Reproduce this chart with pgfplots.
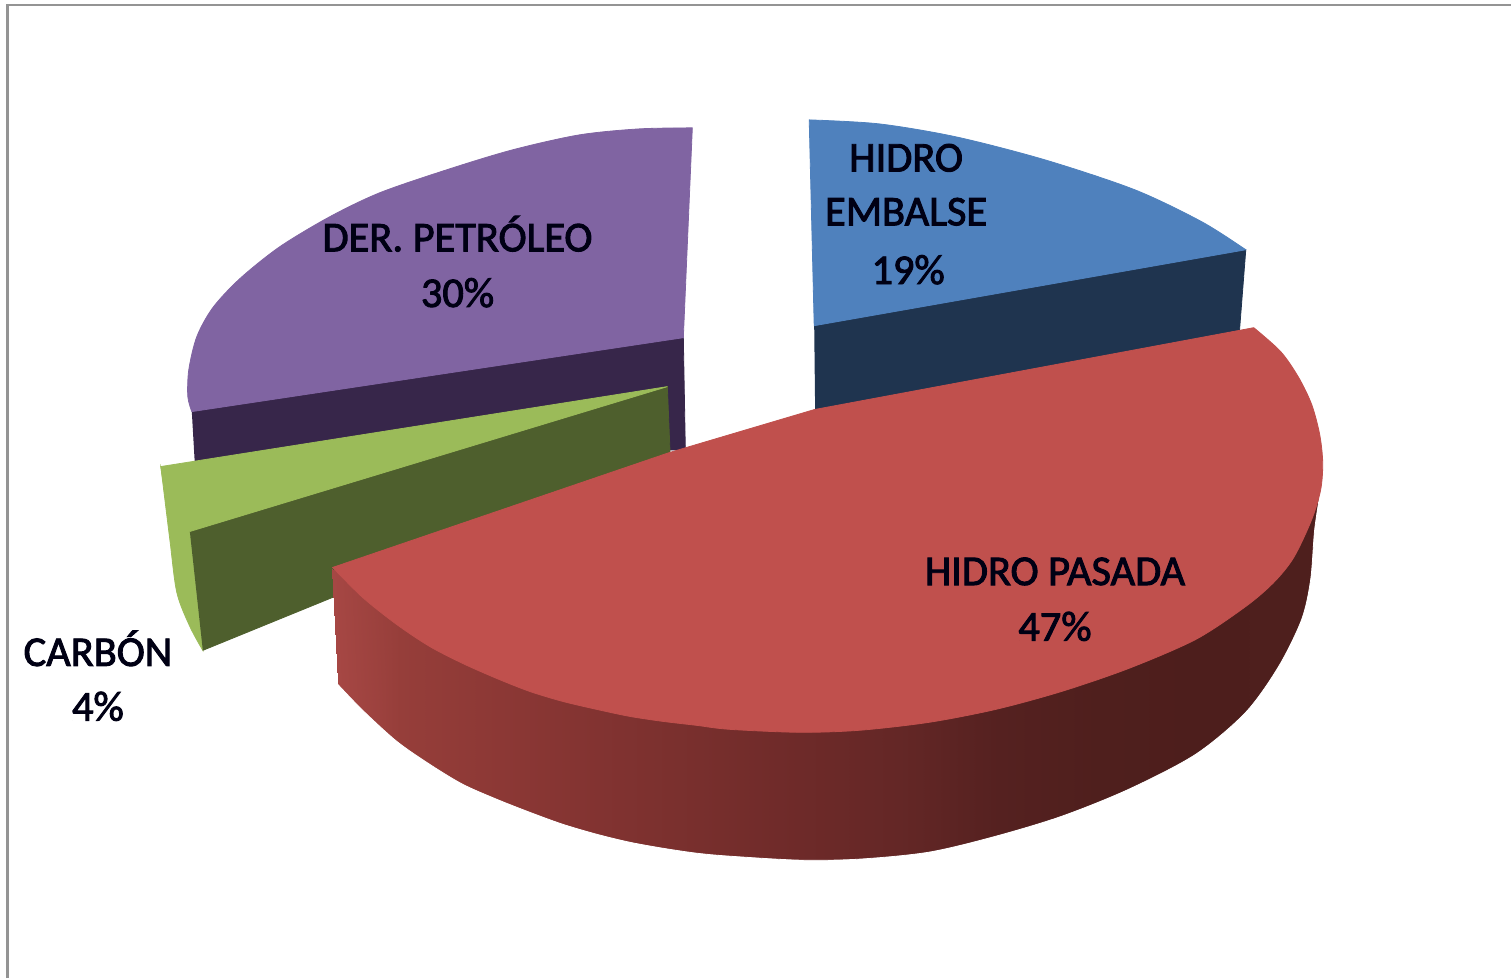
\documentclass[border=0pt]{standalone}
\usepackage{pgfplots}
\pgfplotsset{compat=1.18}
\usepackage{fontspec}
\setmainfont{Carlito}
\newfontfamily\labfont[FakeBold=2.2]{Carlito}
\newcommand{\lab}[3]{\node[anchor=center,inner sep=0pt,text=black!92!blue,font=\labfont\fontsize{21.2}{24}\selectfont] at (axis cs:#1,#2) {#3};}
\definecolor{cblue}{HTML}{4F81BD}
\definecolor{dblue}{HTML}{1F344F}
\definecolor{cpurple}{HTML}{8064A2}
\definecolor{dpurple}{HTML}{37264A}
\definecolor{cgreen}{HTML}{9BBB59}
\definecolor{dgreen}{HTML}{4E5F2D}
\definecolor{cred}{HTML}{C0504D}
\begin{document}
\begin{tikzpicture}
\begin{axis}[hide axis,scale only axis,width=756pt,height=489.5pt,
  xmin=0,xmax=1512,ymin=0,ymax=979,y dir=reverse,clip=false,
  colormap={redside}{rgb255=(166,71,68) rgb255=(150,62,58) rgb255=(140,56,53) rgb255=(130,51,49) rgb255=(120,47,45) rgb255=(110,42,41) rgb255=(100,39,38) rgb255=(85,33,32) rgb255=(79,31,29) rgb255=(77,30,28) rgb255=(78,31,29) rgb255=(79,31,30)}]
% page extent
\addplot[draw=none] coordinates {(0,0) (1512,979)};
% frame
\addplot[color=black!42,line width=1.5pt] coordinates {(8,979) (8,5) (1512,5)};
% purple side and top
\addplot[fill=dpurple,draw=dpurple,line width=0.4pt] coordinates {(192,412) (684,338) (686,450) (195,464)};
\addplot[smooth,fill=cpurple,draw=cpurple,line width=0.4pt] coordinates {(693,128) (640,129) (580,135) (513,150) (447,170) (380,193) (330,217) (280,247) (240,279) (213,308) (197,337) (189,370) (188,397) (192,412)} -- (axis cs:684,338) -- cycle;
% green
\addplot[smooth,fill=cgreen,draw=cgreen,line width=0.4pt] coordinates {(161,467) (170,540) (177,593) (190,627) (203,651)} -- (axis cs:190,532) -- cycle;
\addplot[fill=dgreen,draw=dgreen,line width=0.4pt] coordinates {(190,532) (668,387) (671,460) (203,651)};
\addplot[smooth,fill=cgreen,draw=cgreen,line width=0.4pt] coordinates {(161,467) (168,500) (190,532)} -- (axis cs:668,387) -- cycle;
% blue
\addplot[fill=dblue,draw=dblue,line width=0.4pt] coordinates {(815,326) (1247,250) (1240,340) (816,415)};
\addplot[smooth,fill=cblue,draw=cblue,line width=0.4pt] coordinates {(810,120) (880,124) (957,137) (1046,160) (1136,190) (1203,222) (1247,250)} -- (axis cs:815,326) -- cycle;
% red side
\addplot[surf,shader=interp,mesh/rows=2,point meta=explicit,draw=none] coordinates {
(332,570) [0] (400,605) [1] (500,650) [2] (600,690) [3] (700,710) [4] (800,725) [5] (900,720) [6] (1000,695) [7] (1100,670) [8] (1200,625) [9] (1300,500) [10] (1322,490) [11]

(348,870) [0] (400,870) [1] (500,870) [2] (600,870) [3] (700,870) [4] (800,870) [5] (900,870) [6] (1000,870) [7] (1100,870) [8] (1200,870) [9] (1300,870) [10] (1322,870) [11]
};
% white outside the lower rim of the red slice
\addplot[smooth,fill=white,draw=white,line width=0.4pt] coordinates {(338,685) (363,711) (397,742) (430,765) (463,785) (497,800) (530,813) (563,825) (597,835) (630,843) (663,849) (697,854) (730,857) (800,861) (860,860) (930,853) (997,837) (1063,817) (1130,790) (1197,755) (1247,713) (1280,667) (1303,620) (1312,580) (1316,530) (1322,490)} -- (axis cs:1400,490) -- (axis cs:1400,900) -- (axis cs:338,900) -- cycle;
% red top
\addplot[smooth,fill=cred,draw=cred,line width=0.4pt] coordinates {(1255,328) (1282,352) (1300,378) (1313,405) (1321,435) (1324,463) (1322,490) (1313,520) (1295,558) (1275,583) (1247,607) (1197,640) (1130,669) (1063,692) (997,710) (930,723) (860,731) (800,733) (730,730) (697,726) (663,722) (630,717) (597,710) (563,702) (530,692) (497,679) (463,664) (430,647) (397,625) (363,598) (333,568)} -- (axis cs:670,453) -- (axis cs:815,410) -- cycle;
% labels
\lab{907}{158}{HIDRO}
\lab{907}{212}{EMBALSE}
\lab{909}{270}{19\%}
\lab{458}{234}{DER. PETRÓLEO}
\lab{458}{293}{30\%}
\lab{1056}{572}{HIDRO PASADA}
\lab{1056}{627}{47\%}
\lab{98}{649}{CARBÓN}
\lab{98}{707}{4\%}
\end{axis}
\end{tikzpicture}
\end{document}
